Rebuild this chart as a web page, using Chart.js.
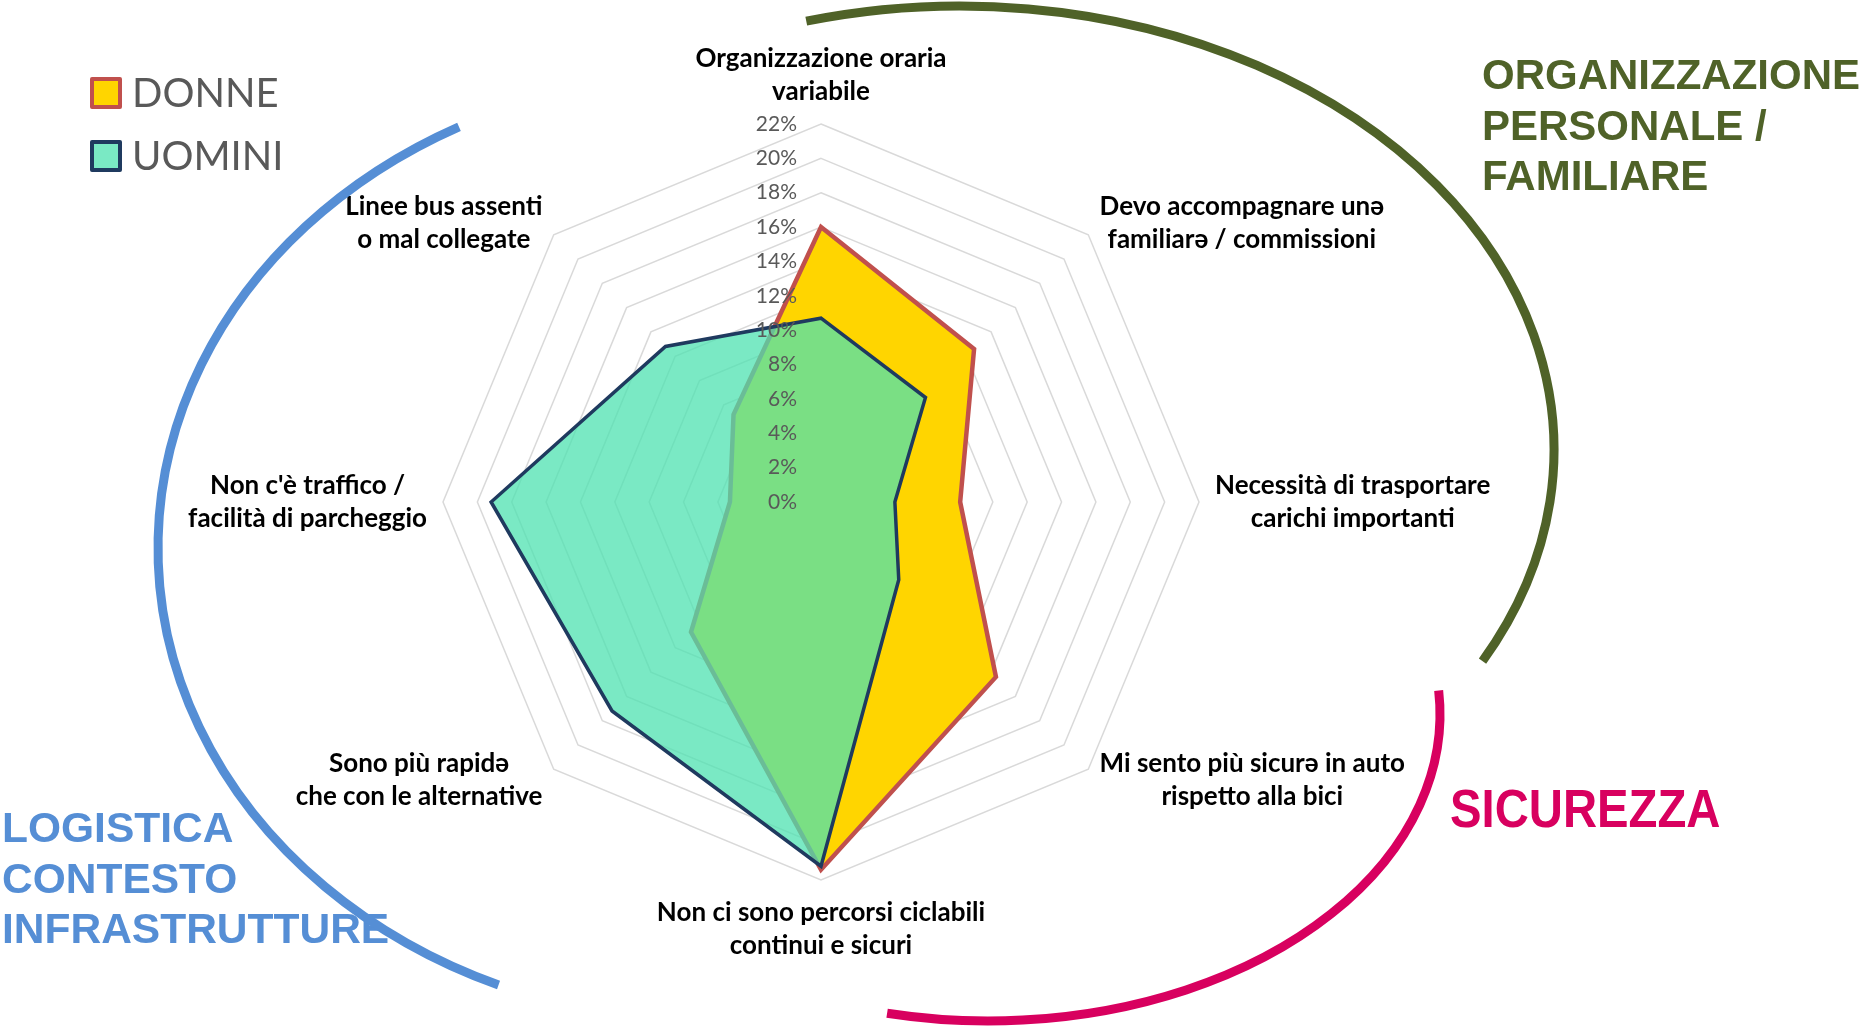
<!DOCTYPE html>
<html>
<head>
<meta charset="utf-8">
<script src="https://cdn.jsdelivr.net/npm/chart.js@4.4.1/dist/chart.umd.min.js"></script>
<style>
  html, body { margin: 0; padding: 0; background: #ffffff; }
  #wrap { width: 1867px; height: 1031px; position: relative; }
  canvas { display: block; }
</style>
</head>
<body>
<div id="wrap"><canvas id="c" width="1867" height="1031"></canvas></div>
<script>
// ---------- DATA ----------
const categories = [
  ["Organizzazione oraria", "variabile"],
  ["Devo accompagnare unə", "familiarə / commissioni"],
  ["Necessità di trasportare", "carichi importanti"],
  ["Mi sento più sicurə in auto", "rispetto alla bici"],
  ["Non ci sono percorsi ciclabili", "continui e sicuri"],
  ["Sono più rapidə", "che con le alternative"],
  ["Non c'è traffico /", "facilità di parcheggio"],
  ["Linee bus assenti", "o mal collegate"]
];
const donne  = [16.0, 12.6, 8.1, 14.4, 21.4, 10.7, 5.3, 7.2];
const uomini = [10.7, 8.6, 4.3, 6.4, 21.2, 17.2, 19.2, 12.8];
const seriesNames = ["DONNE", "UOMINI"];
const tickLabels = ["0%", "2%", "4%", "6%", "8%", "10%", "12%", "14%", "16%", "18%", "20%", "22%"];
const groupLabels = {
  organizzazione: ["ORGANIZZAZIONE", "PERSONALE /", "FAMILIARE"],
  sicurezza: ["SICUREZZA"],
  logistica: ["LOGISTICA", "CONTESTO", "INFRASTRUTTURE"]
};

// ---------- DECORATION PLUGIN ----------
const LABEL_FONT = "bold 26px Lato, 'Noto Sans', sans-serif";
const overlay = {
  id: 'overlay',
  beforeDraw(chart) {
    const ctx = chart.ctx;
    ctx.save();
    ctx.fillStyle = '#ffffff';
    ctx.fillRect(0, 0, chart.width, chart.height);
    ctx.restore();
  },
  afterDatasetsDraw(chart) {
    const ctx = chart.ctx;
    const r = chart.scales.r;
    ctx.save();
    // tick labels, right aligned left of the vertical axis
    ctx.font = "21px Lato, 'Noto Sans', sans-serif";
    ctx.fillStyle = '#595959';
    ctx.textAlign = 'right';
    ctx.textBaseline = 'middle';
    r.ticks.forEach(t => {
      const d = r.getDistanceFromCenterForValue(t.value);
      ctx.fillText(t.label, r.xCenter - 24, r.yCenter - d);
    });
    // category labels
    ctx.font = LABEL_FONT;
    ctx.fillStyle = '#000000';
    const lineH = 33;
    chart.data.labels.forEach((lines, i) => {
      const p = r.getPointPosition(i, r.drawingArea + 16);
      const dx = p.x - r.xCenter, dy = p.y - r.yCenter;
      const blockH = lines.length * lineH;
      let top, align;
      if (Math.abs(dx) < 2) {
        align = 'center';
        top = dy < 0 ? p.y - blockH : p.y;
      } else {
        align = dx > 0 ? 'left' : 'right';
        top = p.y - blockH / 2;
      }
      const widths = lines.map(l => ctx.measureText(l).width);
      const maxW = Math.max(...widths);
      let cx;
      if (align === 'center') cx = p.x;
      else if (align === 'left') cx = p.x + maxW / 2;
      else cx = p.x - maxW / 2;
      ctx.textAlign = 'center';
      lines.forEach((l, k) => ctx.fillText(l, cx, top + lineH * (k + 0.5)));
    });
    ctx.restore();
  },
  afterDraw(chart) {
    const ctx = chart.ctx;
    ctx.save();
    // legend
    ctx.textAlign = 'left';
    ctx.textBaseline = 'alphabetic';
    ctx.font = "40px Lato, 'Noto Sans', sans-serif";
    const legendRows = [107, 170];
    chart.data.datasets.forEach((ds, i) => {
      const by = legendRows[i] - 28;
      ctx.fillStyle = '#ffffff';
      ctx.fillRect(92, by, 28, 28);
      ctx.fillStyle = ds.backgroundColor;
      ctx.fillRect(92, by, 28, 28);
      ctx.lineWidth = 4;
      ctx.strokeStyle = ds.borderColor;
      ctx.lineJoin = 'round';
      ctx.strokeRect(92, by, 28, 28);
      ctx.fillStyle = '#595959';
      ctx.fillText(ds.label, 132, legendRows[i]);
    });
    // group labels
    ctx.font = "bold 42px 'Liberation Sans', Arial, sans-serif";
    ctx.fillStyle = '#4F6228';
    groupLabels.organizzazione.forEach((t, k) => ctx.fillText(t, 1482, 89 + k * 50.5));
    ctx.font = "bold 42.5px 'Liberation Sans', Arial, sans-serif";
    ctx.fillStyle = '#558ED5';
    groupLabels.logistica.forEach((t, k) => ctx.fillText(t, 2, 842 + k * 50.5));
    ctx.save();
    ctx.fillStyle = '#D8005F';
    ctx.font = "bold 54px 'Liberation Sans', Arial, sans-serif";
    ctx.translate(1450, 827);
    ctx.scale(0.875, 1);
    ctx.fillText(groupLabels.sicurezza[0], 0, 0);
    ctx.restore();
    // arcs
    const deg = Math.PI / 180;
    ctx.lineWidth = 9;
    ctx.lineCap = 'butt';
    ctx.strokeStyle = '#4F6228';
    ctx.beginPath();
    ctx.ellipse(960, 450, 594, 444, 0, -105 * deg, 28.4 * deg);
    ctx.stroke();
    ctx.strokeStyle = '#558ED5';
    ctx.beginPath();
    ctx.ellipse(714, 548, 556, 474, 0, 112.8 * deg, 242.7 * deg);
    ctx.stroke();
    ctx.strokeStyle = '#D8005F';
    ctx.beginPath();
    ctx.ellipse(988, 714, 452, 307, 0, -4.4 * deg, 102.9 * deg);
    ctx.stroke();
    ctx.restore();
  }
};

// ---------- CHART ----------
const W = 1867, H = 1031;
new Chart(document.getElementById('c'), {
  type: 'radar',
  data: {
    labels: categories,
    datasets: [
      {
        label: seriesNames[0], data: donne,
        backgroundColor: '#FFD500', borderColor: '#C0504D', borderWidth: 4.5,
        pointRadius: 0, pointHoverRadius: 0, fill: true, order: 2,
        borderJoinStyle: 'miter', tension: 0
      },
      {
        label: seriesNames[1], data: uomini,
        backgroundColor: 'rgba(78,225,176,0.75)', borderColor: '#1F3A5F', borderWidth: 3.5,
        pointRadius: 0, pointHoverRadius: 0, fill: true, order: 1,
        borderJoinStyle: 'miter', tension: 0
      }
    ]
  },
  options: {
    responsive: false,
    devicePixelRatio: 1,
    animation: false,
    layout: { padding: { left: 443, right: W - 1200, top: 124, bottom: H - 881 } },
    plugins: { legend: { display: false }, tooltip: { enabled: false } },
    scales: {
      r: {
        min: 0, max: 22,
        ticks: {
          stepSize: 2, display: false,
          callback: (v, i) => tickLabels[i]
        },
        grid: { color: '#D9D9D9', lineWidth: 1.5 },
        angleLines: { display: false },
        pointLabels: { display: false }
      }
    }
  },
  plugins: [overlay]
});
</script>
</body>
</html>
